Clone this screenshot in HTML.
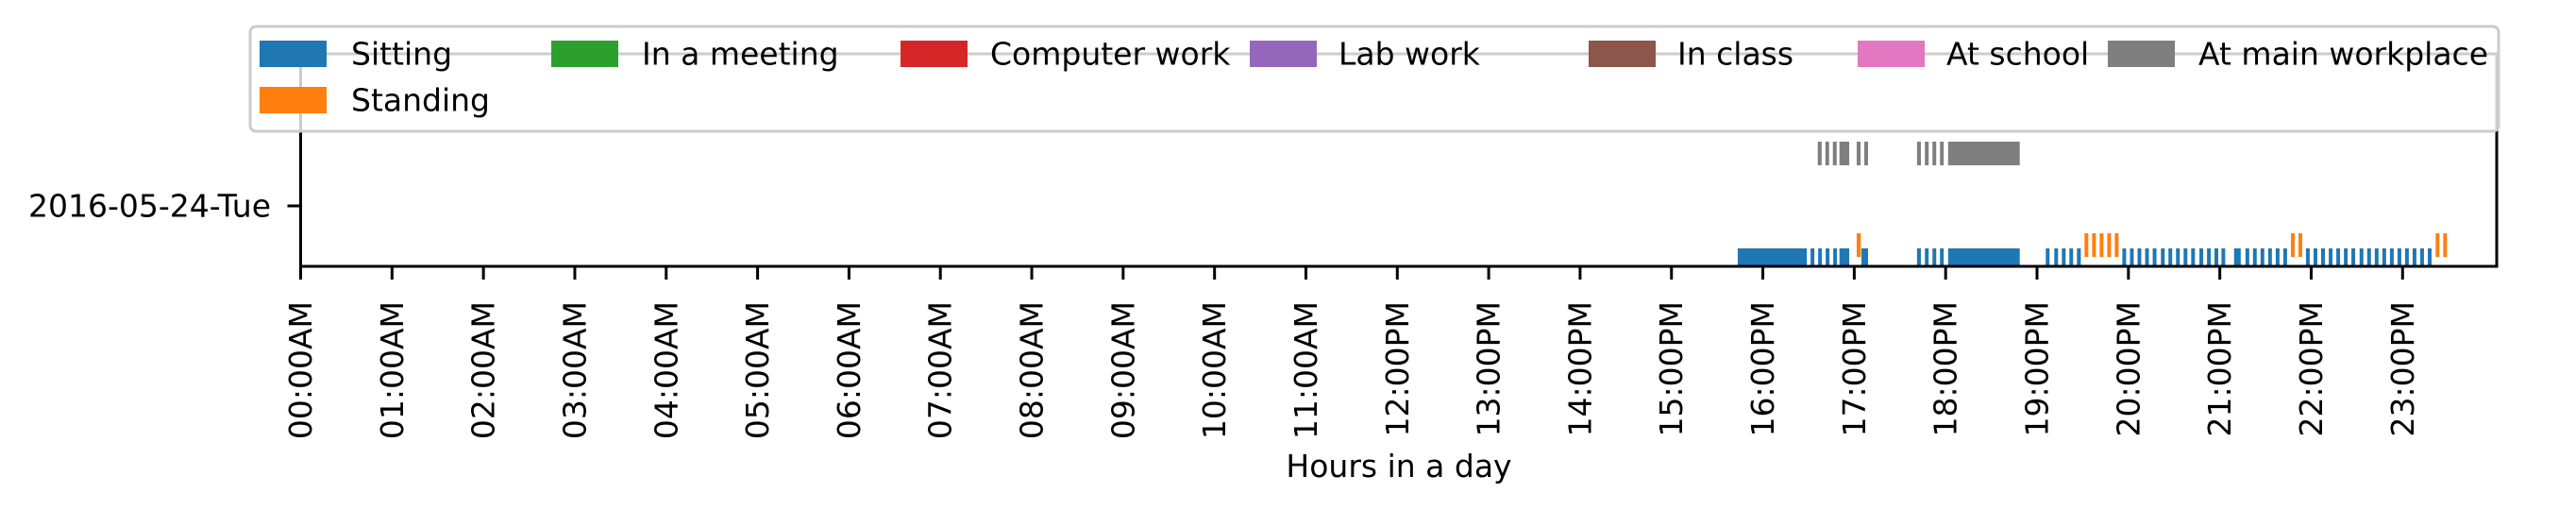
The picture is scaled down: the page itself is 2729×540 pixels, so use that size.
<!DOCTYPE html>
<html><head><meta charset="utf-8"><style>
body{margin:0;background:#fff;}
svg{display:block;font-family:"DejaVu Sans","Liberation Sans",sans-serif;}
</style></head><body>
<svg id="chart" width="2729" height="540" viewBox="0 0 2729 540" xmlns="http://www.w3.org/2000/svg">
<rect width="2729" height="540" fill="#fff"/>
<g id="marks"></g>
<g id="axes"></g>
<g id="legend"></g>
<text x="1482" y="505" font-size="33" text-anchor="middle">Hours in a day</text>
</svg>
<script>
const dayLabels = ["2016-05-24-Tue"];
const tickHours = [0,1,2,3,4,5,6,7,8,9,10,11,12,13,14,15,16,17,18,19,20,21,22,23];
const tickLabels = ["00:00AM","01:00AM","02:00AM","03:00AM","04:00AM","05:00AM","06:00AM","07:00AM","08:00AM","09:00AM","10:00AM","11:00AM","12:00PM","13:00PM","14:00PM","15:00PM","16:00PM","17:00PM","18:00PM","19:00PM","20:00PM","21:00PM","22:00PM","23:00PM"];
const sittingStarts = [15.725,16.522,16.605,16.687,16.770,16.838,17.079,17.687,17.773,17.856,17.938,18.027,19.096,19.189,19.272,19.354,19.437,19.934,20.017,20.100,20.183,20.266,20.356,20.438,20.521,20.604,20.687,20.777,20.860,20.942,21.018,21.156,21.281,21.363,21.446,21.529,21.612,21.695,21.943,22.026,22.109,22.192,22.275,22.358,22.440,22.530,22.613,22.696,22.779,22.862,22.945,23.027,23.110,23.193,23.276];
const sittingEnds = [16.481,16.564,16.646,16.729,16.811,16.945,17.151,17.729,17.814,17.897,17.979,18.811,19.137,19.230,19.313,19.395,19.479,19.975,20.058,20.141,20.224,20.307,20.397,20.479,20.562,20.645,20.728,20.818,20.901,20.983,21.059,21.229,21.322,21.404,21.487,21.570,21.653,21.736,21.984,22.067,22.150,22.233,22.316,22.399,22.481,22.571,22.654,22.737,22.820,22.903,22.986,23.068,23.151,23.234,23.317];
const standingStarts = [17.027,19.520,19.603,19.686,19.769,19.851,21.778,21.861,23.362,23.445];
const standingEnds = [17.072,19.561,19.644,19.727,19.810,19.892,21.819,21.902,23.403,23.486];
const workplaceStarts = [16.601,16.684,16.766,16.838,17.027,17.110,17.687,17.773,17.856,17.938,18.027];
const workplaceEnds = [16.643,16.725,16.808,16.945,17.069,17.151,17.729,17.814,17.897,17.979,18.811];
const legendLabels = ["Sitting","In a meeting","Computer work","Lab work","In class","At school","At main workplace","Standing"];
const legendColors = ["#1f77b4","#2ca02c","#d62728","#9467bd","#8c564b","#e377c2","#7f7f7f","#ff7f0e"];

const NS = "http://www.w3.org/2000/svg";
const X0 = 318.5, X1 = 2645, Y0 = 282, Y1 = 57;
const xlim = [0, 24.03], ylim = [0, 9];
function xs(h){ return X0 + (h - xlim[0]) / (xlim[1] - xlim[0]) * (X1 - X0); }
function ys(v){ return Y0 - (v - ylim[0]) / (ylim[1] - ylim[0]) * (Y0 - Y1); }
function mk(tag, attrs, parent){ const e = document.createElementNS(NS, tag); for (const k in attrs) e.setAttribute(k, attrs[k]); parent.appendChild(e); return e; }

const marks = document.getElementById('marks');
function drawBars(starts, ends, y0, y1, color, name){
  for (let i = 0; i < starts.length; i++){
    const r = mk('rect', {x: xs(starts[i]), y: ys(y1), width: xs(ends[i]) - xs(starts[i]), height: ys(y0) - ys(y1), fill: color}, marks);
    
    
  }
}
drawBars(workplaceStarts, workplaceEnds, 4.28, 5.28, "#7f7f7f", "workplace-bar");
drawBars(sittingStarts, sittingEnds, 0, 0.76, "#1f77b4", "sitting-bar");
drawBars(standingStarts, standingEnds, 0.4, 1.4, "#ff7f0e", "standing-bar");

const axes = document.getElementById('axes');
const sp = mk('path', {d: `M${X0} ${Y1} L${X0} ${Y0} L${X1} ${Y0} L${X1} ${Y1} Z`, fill: 'none', stroke: '#000', 'stroke-width': 3}, axes);


for (let i = 0; i < tickHours.length; i++){
  const x = xs(tickHours[i]);
  const t = mk('line', {x1: x, x2: x, y1: Y0, y2: Y0 + 14, stroke: '#000', 'stroke-width': 3}, axes);
  
  
  const l = mk('text', {x: 0, y: 0, 'font-size': 33, 'text-anchor': 'end', 'dominant-baseline': 'central', transform: `translate(${x},319) rotate(-90)`}, axes);
  l.textContent = tickLabels[i];
  
  
}
const yt = mk('line', {x1: X0 - 14, x2: X0, y1: 218, y2: 218, stroke: '#000', 'stroke-width': 3}, axes);


const yl = mk('text', {x: 287, y: 218, 'font-size': 33, 'text-anchor': 'end', 'dominant-baseline': 'central'}, axes);
yl.textContent = dayLabels[0];



const lg = document.getElementById('legend');
const box = mk('rect', {x: 265, y: 28, width: 2382, height: 111, rx: 6, fill: '#fff', 'fill-opacity': 0.8, stroke: '#cccccc', 'stroke-width': 3}, lg);


const patchX = [275, 584, 954, 1324, 1683, 1968, 2233, 275];
const textX = [372, 680, 1049, 1418, 1777, 2062, 2329, 372];
for (let i = 0; i < legendLabels.length; i++){
  const row = i < 7 ? 0 : 1;
  const cy = row ? 106 : 57;
  const p = mk('rect', {x: patchX[i], y: cy - 14, width: 71, height: 28, fill: legendColors[i]}, lg);
  
  
  const t = mk('text', {x: textX[i], y: cy, 'font-size': 33, 'dominant-baseline': 'central'}, lg);
  t.textContent = legendLabels[i];
  
  
}
</script>
</body></html>
